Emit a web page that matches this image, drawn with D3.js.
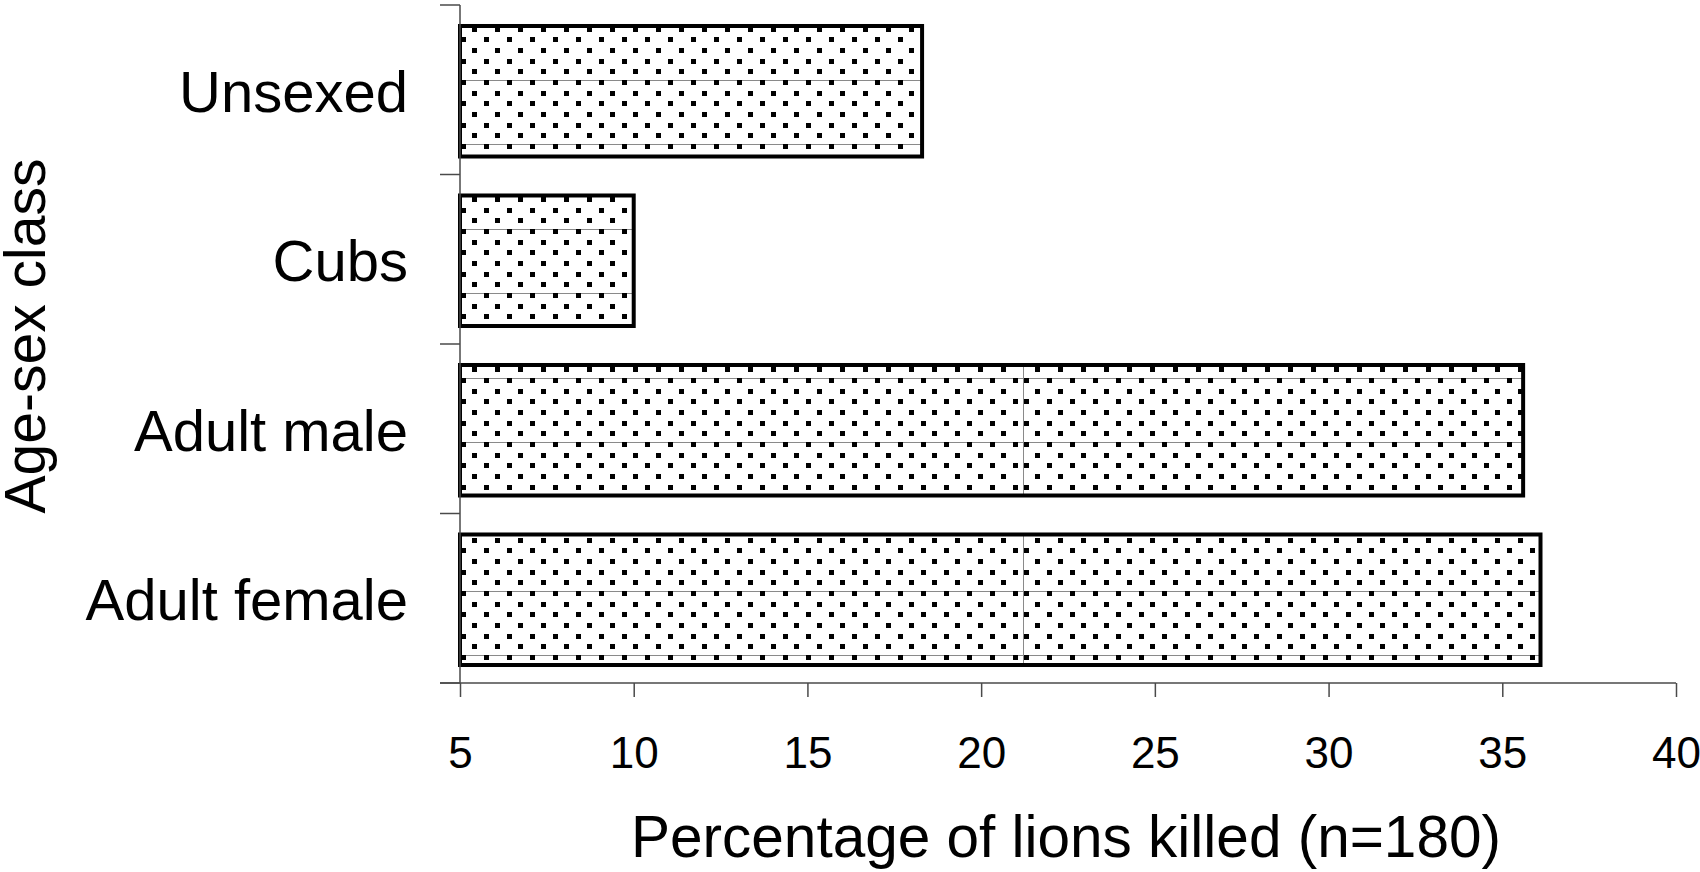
<!DOCTYPE html>
<html>
<head>
<meta charset="utf-8">
<script src="https://cdn.jsdelivr.net/npm/d3@7"></script>
<style>
  html, body { margin: 0; padding: 0; background: #fff; }
  svg { display: block; font-family: "Liberation Sans", Arial, sans-serif; }
</style>
</head>
<body>
<svg id="chart" width="1700" height="872"></svg>
<script>
const classes = ['Unsexed', 'Cubs', 'Adult male', 'Adult female'];
const percentKilled = [18.3, 10.0, 35.6, 36.1];
const xTicks = [5, 10, 15, 20, 25, 30, 35, 40];
const xTitle = 'Percentage of lions killed (n=180)';
const yTitle = 'Age-sex class';

// phase of the fill tiles inside each bar (the source rendered them unevenly)
const tilePhase = [16, 165, 314, 527];

const svg = d3.select('#chart');
const axisColor = '#4a4a4a';

const x = d3.scaleLinear().domain([5, 40]).range([460, 1676]);
const y = d3.scaleBand().domain(classes).range([5, 683])
  .paddingInner(0.23).paddingOuter(0.115);

const rows = classes.map((name, i) => ({ name, value: percentKilled[i], phase: tilePhase[i] }));

// dotted fill, one tile 563 x 64 with faint seam lines like the source
const defs = svg.append('defs');
const tileW = 563, tileH = 64, dx = tileW / 24.5, dy = tileH / 6;

const pats = defs.selectAll('pattern')
  .data(rows)
  .join('pattern')
  .attr('id', (d, i) => `dots-${i}`)
  .attr('patternUnits', 'userSpaceOnUse')
  .attr('width', tileW)
  .attr('height', tileH)
  .attr('patternTransform', d => `translate(${x(5)},${d.phase})`);

pats.append('rect')
  .attr('width', tileW).attr('height', tileH).attr('fill', '#fff');

pats.append('path')
  .attr('d', `M0,0.5H${tileW}M0.5,0V${tileH}`)
  .attr('stroke', '#8a8a8a').attr('stroke-width', 1).attr('fill', 'none');

pats.each(function () {
  const p = d3.select(this);
  d3.range(6).forEach(r => {
    const x0 = r % 2 === 0 ? 1 : 1 + dx / 2;
    d3.range(25).map(k => Math.round(x0 + k * dx)).filter(v => v < tileW - 4).forEach(v => {
      p.append('rect')
        .attr('x', v).attr('y', Math.round(r * dy))
        .attr('width', 5).attr('height', 5)
        .attr('shape-rendering', 'crispEdges')
        .attr('fill', '#000');
    });
  });
});

// bars
svg.append('g')
  .selectAll('rect')
  .data(rows)
  .join('rect')
  .attr('x', x(5))
  .attr('y', d => y(d.name) + 1.5)
  .attr('width', d => x(d.value) - x(5))
  .attr('height', y.bandwidth())
  .attr('fill', (d, i) => `url(#dots-${i})`)
  .attr('stroke', '#000')
  .attr('stroke-width', 4);

// y axis: line plus ticks on band boundaries
const step = y.step();
const bounds = d3.range(classes.length + 1).map(i => y.range()[0] + i * step);
const yAxis = svg.append('g');
yAxis.append('line')
  .attr('x1', x(5)).attr('x2', x(5))
  .attr('y1', bounds[0]).attr('y2', bounds[bounds.length - 1])
  .attr('stroke', axisColor).attr('stroke-width', 1.5);
yAxis.selectAll('.ytick')
  .data(bounds)
  .join('line')
  .attr('class', 'ytick')
  .attr('x1', x(5) - 20).attr('x2', x(5))
  .attr('y1', d => d).attr('y2', d => d)
  .attr('stroke', axisColor).attr('stroke-width', 1.5);

yAxis.selectAll('.ylab')
  .data(classes)
  .join('text')
  .attr('class', 'ylab')
  .attr('x', 408)
  .attr('y', d => y(d) + y.bandwidth() / 2 + 1.5)
  .attr('dy', '0.35em')
  .attr('text-anchor', 'end')
  .attr('font-size', 58)
  .attr('fill', '#000')
  .text(d => d);

// x axis
const xAxis = svg.append('g').attr('transform', `translate(0,${bounds[bounds.length - 1]})`);
xAxis.call(d3.axisBottom(x).tickValues(xTicks).tickSize(14).tickPadding(40).tickFormat(d3.format('d')));
xAxis.select('.domain').remove();
xAxis.append('line')
  .attr('x1', x(5) - 20).attr('x2', x(40))
  .attr('stroke', axisColor).attr('stroke-width', 1.5);
xAxis.selectAll('.tick line').attr('stroke', axisColor).attr('stroke-width', 1.5);
xAxis.selectAll('.tick text')
  .attr('font-size', 44)
  .attr('font-family', '"Liberation Sans", Arial, sans-serif')
  .attr('fill', '#000');

// titles
svg.append('text')
  .attr('x', (x(5) + x(40)) / 2 - 2)
  .attr('y', 857)
  .attr('text-anchor', 'middle')
  .attr('font-size', 58.5)
  .text(xTitle);

svg.append('text')
  .attr('transform', 'translate(45,336) rotate(-90)')
  .attr('text-anchor', 'middle')
  .attr('font-size', 57)
  .text(yTitle);
</script>
</body>
</html>
